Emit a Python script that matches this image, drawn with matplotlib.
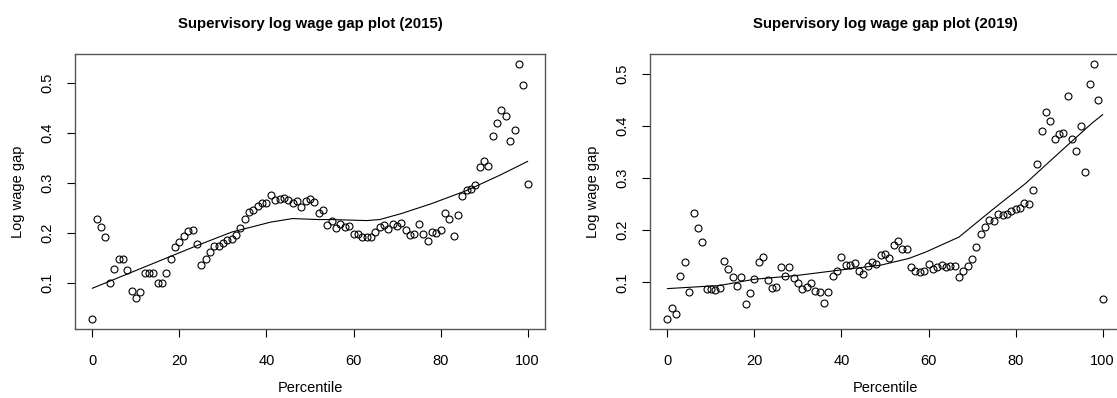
import numpy as np
import matplotlib.pyplot as plt

plt.rcParams["font.family"] = ["Liberation Sans", "DejaVu Sans"]

percentile = np.arange(0, 101)

gap_2015 = [
    0.029, 0.229, 0.212, 0.192, 0.100, 0.128, 0.148, 0.149, 0.127, 0.085,
    0.071, 0.082, 0.120, 0.121, 0.120, 0.101, 0.101, 0.121, 0.148, 0.172,
    0.183, 0.194, 0.205, 0.206, 0.178, 0.137, 0.149, 0.162, 0.174, 0.175,
    0.181, 0.187, 0.188, 0.197, 0.211, 0.229, 0.243, 0.247, 0.254, 0.261,
    0.261, 0.277, 0.267, 0.269, 0.271, 0.267, 0.261, 0.265, 0.252, 0.265,
    0.269, 0.263, 0.240, 0.247, 0.217, 0.224, 0.211, 0.219, 0.213, 0.215,
    0.199, 0.198, 0.193, 0.193, 0.193, 0.203, 0.212, 0.217, 0.209, 0.218,
    0.214, 0.221, 0.207, 0.196, 0.198, 0.218, 0.198, 0.185, 0.203, 0.201,
    0.207, 0.241, 0.229, 0.194, 0.237, 0.274, 0.286, 0.288, 0.296, 0.331,
    0.344, 0.333, 0.393, 0.419, 0.445, 0.434, 0.384, 0.405, 0.537, 0.496,
    0.297,
]

gap_2019 = [
    0.030, 0.051, 0.040, 0.113, 0.140, 0.081, 0.234, 0.205, 0.177, 0.088,
    0.088, 0.086, 0.090, 0.141, 0.126, 0.110, 0.093, 0.110, 0.059, 0.080,
    0.107, 0.139, 0.148, 0.105, 0.090, 0.091, 0.129, 0.112, 0.129, 0.109,
    0.099, 0.088, 0.091, 0.099, 0.083, 0.082, 0.061, 0.082, 0.113, 0.121,
    0.149, 0.133, 0.133, 0.137, 0.121, 0.116, 0.131, 0.139, 0.136, 0.152,
    0.155, 0.146, 0.171, 0.180, 0.164, 0.164, 0.130, 0.121, 0.119, 0.121,
    0.135, 0.126, 0.130, 0.133, 0.129, 0.131, 0.131, 0.110, 0.122, 0.131,
    0.144, 0.167, 0.192, 0.207, 0.219, 0.218, 0.232, 0.230, 0.232, 0.237,
    0.241, 0.242, 0.253, 0.251, 0.277, 0.327, 0.390, 0.427, 0.410, 0.375,
    0.384, 0.386, 0.458, 0.375, 0.352, 0.400, 0.311, 0.480, 0.519, 0.451,
    0.068,
]

# smoothed trend
fit_x_2015 = [0, 24, 32, 41, 46, 52, 55, 63, 66, 71, 78, 86, 93.5, 100]
fit_y_2015 = [0.090, 0.175, 0.202, 0.222, 0.229, 0.227, 0.227, 0.225, 0.227,
              0.239, 0.259, 0.285, 0.315, 0.343]

fit_x_2019 = [0, 12, 20, 29.5, 40, 49, 55.5, 59.3, 67, 74.6, 82.3, 89.9, 97.6, 100]
fit_y_2019 = [0.088, 0.094, 0.106, 0.113, 0.124, 0.133, 0.146, 0.158, 0.187,
              0.239, 0.290, 0.348, 0.406, 0.422]

panels = [
    ("Supervisory log wage gap plot (2015)", gap_2015, fit_x_2015, fit_y_2015),
    ("Supervisory log wage gap plot (2019)", gap_2019, fit_x_2019, fit_y_2019),
]

W, H = 1117, 398
fig = plt.figure(figsize=(W / 100, H / 100), dpi=100)

lefts = [75, 650]
for left, (title, gap, fx, fy) in zip(lefts, panels):
    ax = fig.add_axes([left / W, (H - 329) / H, 470 / W, 275 / H])
    ax.plot(percentile, gap, "o", mfc="none", mec="black", ms=5, mew=0.8)
    ax.plot(fx, fy, color="black", lw=0.8)

    lo, hi = min(gap), max(gap)
    pad = (hi - lo) * 0.04
    ax.set_ylim(lo - pad, hi + pad)
    ax.set_xlim(-4, 104)
    ax.set_xticks([0, 20, 40, 60, 80, 100])
    ax.set_yticks([0.1, 0.2, 0.3, 0.4, 0.5])
    ax.set_yticklabels(["0.1", "0.2", "0.3", "0.4", "0.5"], rotation=90, va="center")
    ax.tick_params(direction="out", length=6, width=0.8, labelsize=10.5,
                   color="black")
    ax.tick_params(axis="x", pad=12)
    ax.tick_params(axis="y", pad=9)
    for s in ax.spines.values():
        s.set_color("#555555")
        s.set_linewidth(1)

    ax.set_title(title, fontsize=10.8, fontweight="bold", pad=19)
    ax.set_xlabel("Percentile", fontsize=10.5, labelpad=9)
    ax.set_ylabel("Log wage gap", fontsize=10.5, labelpad=11)

fig.savefig("out.png", dpi=100)
